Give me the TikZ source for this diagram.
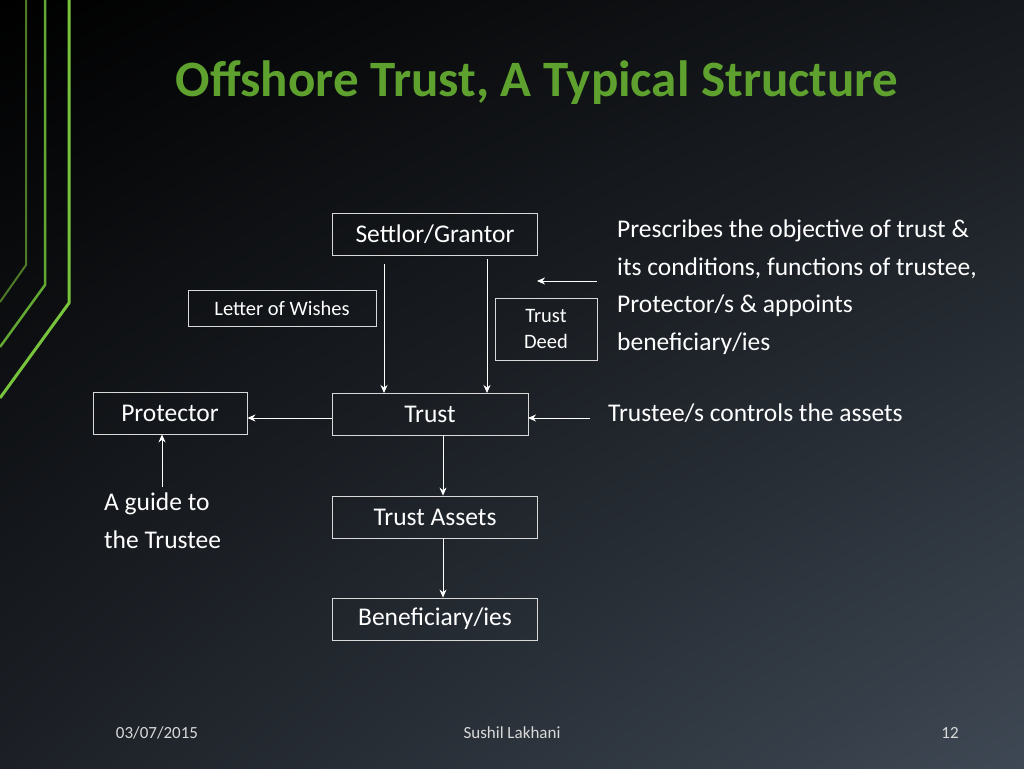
\documentclass[tikz,border=0pt]{standalone}
\usepackage{fontspec}
\setmainfont{Carlito}
\usetikzlibrary{arrows.meta,shadings}
\definecolor{ttl}{HTML}{5EA12E}
\definecolor{gA}{HTML}{4E7A28}
\definecolor{gB}{HTML}{62A832}
\definecolor{gC}{HTML}{78C43C}
\definecolor{bgA}{HTML}{000000}
\definecolor{bgB}{HTML}{15181C}
\definecolor{bgC}{HTML}{1C2026}
\definecolor{bgD}{HTML}{3E4854}
\begin{document}
\begin{tikzpicture}[x=1pt,y=-1pt,
 bx/.style={draw=white!85!black,line width=0.9pt,fill=none,text=white,inner sep=0pt,font=\fontsize{25.5}{28}\selectfont},
 tx/.style={text=white,font=\fontsize{25.5}{37.5}\selectfont,align=left,inner sep=0pt},
 ar/.style={draw=white,line width=0.8pt,-{Stealth[length=8pt,width=7pt]}},
 ft/.style={text=white!85!black,font=\fontsize{17}{19}\selectfont,inner sep=0pt}]
\useasboundingbox (0,0) rectangle (1024,768);
\shade[upper left=bgA,upper right=bgB,lower left=bgC,lower right=bgD] (0,0) rectangle (1024,768);
\draw[gA,line width=2pt] (26,0) -- (26,265) -- (0,302);
\draw[gB,line width=2.5pt] (45,0) -- (45,285) -- (0,347);
\draw[gC,line width=3pt] (69,0) -- (69,303) -- (0,398);
\node[text=ttl,font=\bfseries\fontsize{51}{56}\selectfont] (title) at (537,83) {Offshore Trust, A Typical Structure};
\node[bx,minimum width=205,minimum height=42] (settlor) at (435,234) {Settlor/Grantor};
\node[bx,minimum width=188,minimum height=36,font=\fontsize{20.5}{24}\selectfont] (low) at (282,308) {Letter of Wishes};
\node[bx,minimum width=102,minimum height=62,align=center,font=\fontsize{20.5}{26}\selectfont] (deed) at (546,329) {Trust\\Deed};
\node[bx,minimum width=154,minimum height=42] (prot) at (170,413) {Protector};
\node[bx,minimum width=196,minimum height=42] (trust) at (430,414) {Trust};
\node[bx,minimum width=205,minimum height=42] (assets) at (435,517) {Trust Assets};
\node[bx,minimum width=205,minimum height=42] (ben) at (435,619) {Beneficiary/ies};
\node[tx,anchor=north west] (pres) at (617,220) {Prescribes the objective of trust \&\\its conditions, functions of trustee,\\Protector/s \& appoints\\beneficiary/ies};
\node[tx,anchor=west] (ctrl) at (608,413) {Trustee/s controls the assets};
\node[tx,anchor=north west] (guide) at (104,493) {A guide to\\the Trustee};
\coordinate (s1) at (384,264); \coordinate (s2) at (487,259);
\draw[ar] (s1) -- (384,393);
\draw[ar] (s2) -- (487,393);
\draw[ar] (597,281) -- (537,281);
\draw[ar] (590,418) -- (528,418);
\draw[ar] (trust.west|-0,418) -- (prot.east|-0,418);
\draw[ar] (162,487) -- (prot.south-|162,0);
\draw[ar] (443,435) -- (assets.north-|443,0);
\draw[ar] (443,538) -- (ben.north-|443,0);
\node[ft] (date) at (157,733) {03/07/2015};
\node[ft] (auth) at (512,733) {Sushil Lakhani};
\node[ft] (pg) at (950,733) {12};
\end{tikzpicture}
\end{document}
